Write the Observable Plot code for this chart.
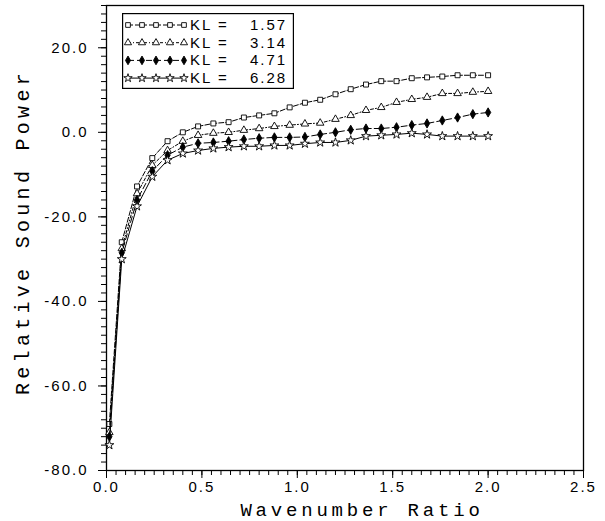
<!DOCTYPE html>
<html><head><meta charset="utf-8">
<script src="https://cdn.jsdelivr.net/npm/d3@7"></script>
<script src="https://cdn.jsdelivr.net/npm/@observablehq/plot@0.6"></script>
<style>
body{margin:0;background:#fff}
#c{position:relative;width:605px;height:521px}
#legend{position:absolute;left:122px;top:13px}
</style>
</head><body><div id="c"></div>
<script>
const ratio = [0.015,0.08,0.16,0.24,0.32,0.40,0.48,0.56,0.64,0.72,0.80,0.88,0.96,1.04,1.12,1.20,1.28,1.36,1.44,1.52,1.60,1.68,1.76,1.84,1.92,2.00];
const kl157 = [-69,-26,-12.8,-6.1,-2.1,0.0,1.4,2.1,2.4,3.5,4.0,4.5,5.9,7.0,7.7,9.0,10.2,11.3,12.1,12.1,12.8,13.0,13.2,13.5,13.5,13.5];
const kl314 = [-71,-27.5,-14.5,-7.8,-4.3,-2.1,-0.7,-0.2,0.0,0.5,0.9,1.4,1.7,2.0,2.2,3.1,4.0,5.2,5.9,7.1,7.8,8.3,9.2,9.2,9.5,9.7];
const kl471 = [-72,-28.5,-16,-9.2,-5.4,-3.5,-2.6,-2.4,-2.1,-1.7,-1.4,-1.2,-1.2,-1.1,-0.5,0.0,0.6,0.9,0.9,1.2,1.7,2.1,2.8,3.5,4.3,4.7];
const kl628 = [-74,-30,-17.5,-10.5,-6.6,-5.0,-4.3,-3.8,-3.5,-3.3,-3.3,-3.1,-3.1,-2.7,-2.4,-2.4,-1.9,-0.9,-0.7,-0.5,-0.2,-0.5,-0.9,-0.9,-0.9,-0.9];
const klLabels = ["1.57","3.14","4.71","6.28"];
const xMajor = [0,0.5,1.0,1.5,2.0,2.5];
const yMajor = [-80,-60,-40,-20,0,20];

const styles = [
  {symbol:"square", fill:"white", dash:"5,2"},
  {symbol:"triangle", fill:"white", dash:"3,2,1,2"},
  {symbol:"diamond", fill:"black", dash:"6,3"},
  {symbol:"star", fill:"white", dash:null}
];
const allSeries = [kl157,kl314,kl471,kl628];
const rows = allSeries.map((vals,i)=>ratio.map((x,j)=>({x, y:vals[j], s:i})));

const yMin=-80, yMax=30;
const marks = [
  Plot.frame({stroke:"black", strokeWidth:1.3}),
  Plot.axisX({ticks:d3.range(0,2.5001,0.05), tickSize:5, text:null, label:null}),
  Plot.axisX({ticks:xMajor, tickSize:8, tickFormat:d=>d.toFixed(1), label:null, fontSize:15, tickPadding:3}),
  Plot.axisY({ticks:d3.range(-80,yMax+0.01,2), tickSize:5, text:null, label:null}),
  Plot.axisY({ticks:yMajor, tickSize:8, tickFormat:d=>d.toFixed(1), label:null, fontSize:15, tickPadding:10}),
];
rows.forEach((r,i)=>{
  marks.push(Plot.line(r,{x:"x",y:"y",stroke:"black",strokeWidth:1,strokeDasharray:styles[i].dash}));
  marks.push(Plot.dot(r,{x:"x",y:"y",symbol:()=>styles[i].symbol,r:2.8,stroke:"black",strokeWidth:0.9,fill:styles[i].fill}));
});

const chart = Plot.plot({
  width:605, height:521,
  marginLeft:106, marginRight:22, marginTop:5, marginBottom:51,
  style:{fontFamily:"Liberation Sans, sans-serif", color:"black", background:"white"},
  x:{domain:[0,2.5]},
  y:{domain:[yMin,yMax]},
  symbol:{type:"identity"},
  marks
});
const c = document.getElementById("c");
c.appendChild(chart);

const svg = d3.select(chart);
svg.selectAll('g[aria-label="x-axis tick label"] text, g[aria-label="y-axis tick label"] text')
  .attr("letter-spacing", 2);

// axis titles
svg.append("text").attr("x",362).attr("y",516).attr("text-anchor","middle")
  .attr("font-family","Liberation Mono, monospace").attr("font-size",19).attr("letter-spacing",3.8).text("Wavenumber Ratio");
svg.append("text").attr("transform","translate(29,232) rotate(-90)").attr("text-anchor","middle")
  .attr("font-family","Liberation Mono, monospace").attr("font-size",20).attr("letter-spacing",4.3).text("Relative Sound Power");

// legend
const lg = d3.select(c).append("svg").attr("id","legend").attr("width",172).attr("height",76);
lg.append("rect").attr("x",0.6).attr("y",0.6).attr("width",170.8).attr("height",74.8).attr("fill","white").attr("stroke","black").attr("stroke-width",1.2);
const symMap = {square:d3.symbolSquare, triangle:d3.symbolTriangle, diamond:d3.symbolDiamond, star:d3.symbolStar};
klLabels.forEach((lab,i)=>{
  const yy = 12 + i*17.7;
  lg.append("line").attr("x1",6).attr("x2",62).attr("y1",yy).attr("y2",yy).attr("stroke","black").attr("stroke-dasharray",styles[i].dash);
  for(let k=0;k<5;k++){
    lg.append("path").attr("d",d3.symbol(symMap[styles[i].symbol],22)()).attr("transform",`translate(${6+k*14},${yy})`)
      .attr("fill",styles[i].fill).attr("stroke","black").attr("stroke-width",0.9);
  }
  const t = (x,s)=>lg.append("text").attr("x",x).attr("y",yy+5).attr("font-family","Liberation Sans, sans-serif").attr("font-size",15).attr("letter-spacing",2).text(s);
  t(68,"KL"); t(96,"="); t(128,lab);
});
</script>
</body></html>
